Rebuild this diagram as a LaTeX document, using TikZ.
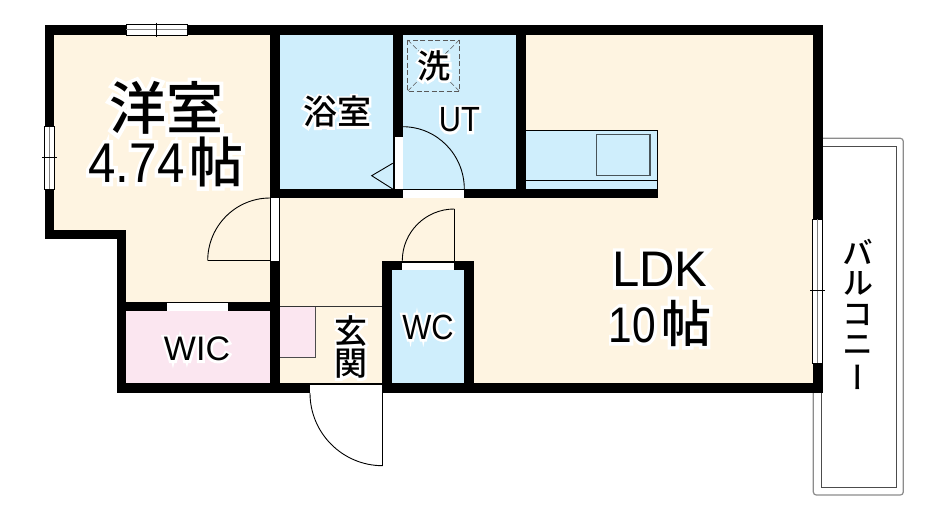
\documentclass[tikz,border=0pt]{standalone}
\usepackage{fontspec}
\setmainfont{Liberation Sans}
\newfontfamily\lat{Liberation Sans}
\newfontfamily\lathalo[FakeBold=14]{Liberation Sans}
\newfontfamily\cjk{Noto Sans CJK JP Medium}
\newfontfamily\cjkhalo[FakeBold=14]{Noto Sans CJK JP Medium}
\newfontfamily\cjkv[RawFeature=+vert]{Noto Sans CJK JP Medium}

\definecolor{floorcream}{HTML}{FEF4E1}
\definecolor{wetblue}{HTML}{CFEEFC}
\definecolor{closetpink}{HTML}{FBE6F0}

\newcommand{\fs}[1]{\fontsize{#1}{#1}\selectfont}
\newcommand{\halo}[3]{\leavevmode\rlap{\textcolor{white}{\csname #1halo\endcsname\fs{#2}#3}}{\csname #1\endcsname\fs{#2}#3}}

\tikzset{
    wall/.style={fill=black},
    opening/.style={fill=white},
    thinline/.style={draw=black, line width=0.9pt},
    roomlabel/.style={inner sep=0pt, transform shape},
    windowbox/.style={draw=black, fill=white, line width=0.7pt},
}

\begin{document}
\begin{tikzpicture}[x=1pt, y=-1pt]
    \useasboundingbox (0, 0) rectangle (943, 515);

    % floors
    \fill[floorcream] (50, 30) -- (818, 30) -- (818, 388) -- (121, 388) -- (121, 235) -- (50, 235) -- cycle;
    \fill[wetblue] (275, 30) rectangle (520, 194);
    \fill[wetblue] (387, 265) rectangle (469, 388);
    \fill[closetpink] (121, 306) rectangle (275, 388);
    \fill[closetpink] (280, 306.7) rectangle (315.7, 357.3);

    % kitchen
    \fill[wetblue] (525.7, 130.7) rectangle (657.7, 190);
    \draw[black, line width=0.9pt] (525.7, 130.7) -- (657.7, 130.7) -- (657.7, 190);
    \draw[black, line width=0.9pt] (525.7, 180.7) -- (657.7, 180.7);
    \draw[black!65!wetblue, line width=1.4pt] (596.7, 134.3) rectangle (650, 175.7);

    % entrance step
    \draw[black!80, line width=0.7pt] (280, 306.7) -- (384, 306.7);
    \draw[black!70, line width=0.7pt] (315.7, 306.7) -- (315.7, 357.3) -- (280, 357.3);

    % balcony
    \draw[black!45, line width=1.2pt, rounded corners=3pt] (822, 138.3) -- (903.3, 138.3) -- (903.3, 495) -- (813.3, 495) -- (813.3, 393);
    \draw[black!70, line width=1pt] (822, 146) -- (896, 146) -- (896, 487.3) -- (821.3, 487.3) -- (821.3, 393);

    % walls
    \fill[wall] (44.5, 25) rectangle (822.7, 34.5);
    \fill[wall] (44.5, 25) rectangle (54.3, 239.3);
    \fill[wall] (44.5, 230) rectangle (125.7, 239.3);
    \fill[wall] (116.7, 230) rectangle (125.7, 392.8);
    \fill[wall] (116.7, 383) rectangle (822.7, 392.8);
    \fill[wall] (812.7, 25) rectangle (822.7, 392.8);
    \fill[wall] (270, 25) rectangle (279.7, 392.8);
    \fill[wall] (392.7, 25) rectangle (402.7, 198);
    \fill[wall] (515.7, 25) rectangle (525.7, 198);
    \fill[wall] (270, 189) rectangle (658, 198);
    \fill[wall] (116.7, 301.7) rectangle (279.7, 311);
    \fill[wall] (382.3, 260.7) rectangle (392.3, 392.8);
    \fill[wall] (464.3, 260.7) rectangle (474, 392.8);
    \fill[wall] (382.3, 260.7) rectangle (474, 270.3);

    % door openings
    \fill[opening] (270.8, 198) rectangle (279, 260.7);
    \fill[opening] (394.5, 136.7) rectangle (402.7, 189);
    \fill[opening] (402.7, 190) rectangle (464.3, 198);
    \fill[opening] (166.7, 302.5) rectangle (228, 310.5);
    \fill[opening] (402.3, 262.5) rectangle (454.3, 270.3);
    \fill[opening] (310, 385) rectangle (382.3, 392.8);

    % doors
    \draw[thinline] (207.7, 260.7) -- (270, 260.7);
    \draw[thinline] (207.7, 260.7) arc[start angle=180, end angle=90, x radius=62.3pt, y radius=62.7pt];
    \draw[thinline] (402.7, 126.7) arc[start angle=90, end angle=0, x radius=61.6pt, y radius=62.3pt];
    \draw[thinline] (392.7, 163.3) -- (371.7, 175.7) -- (392.7, 189);
    \draw[thinline] (454.3, 260.7) -- (454.3, 209);
    \draw[thinline] (402.3, 260.7) arc[start angle=180, end angle=90, x radius=52pt, y radius=51.7pt];
    \draw[thinline] (382.7, 383) -- (382.7, 465.7);
    \draw[thinline] (310, 393) arc[start angle=180, end angle=270, x radius=72.7pt, y radius=72.7pt];

    % windows
    \draw[windowbox] (126, 24.5) rectangle (187.3, 35);
    \draw[black!50, line width=1pt] (126, 29.7) -- (187.3, 29.7);
    \draw[black, line width=0.6pt] (156.7, 22.5) -- (156.7, 36.7);
    \draw[windowbox] (44.5, 126.7) rectangle (54.3, 189);
    \draw[black!50, line width=1pt] (49.4, 126.7) -- (49.4, 189);
    \draw[black, line width=0.6pt] (42, 157.3) -- (57, 157.3);
    \draw[windowbox] (812.7, 219) rectangle (822.7, 363.3);
    \draw[black!50, line width=1pt] (817.7, 219) -- (817.7, 363.3);
    \draw[black, line width=0.6pt] (810, 290.7) -- (825, 290.7);

    % washer pan
    \draw[black!65, line width=0.8pt, dash pattern=on 5pt off 2.5pt] (407.7, 40) rectangle (459.3, 91);
    \draw[black!65, line width=0.6pt, dash pattern=on 5pt off 2.5pt] (407.7, 40) -- (459.3, 91);
    \draw[black!65, line width=0.6pt, dash pattern=on 5pt off 2.5pt] (459.3, 40) -- (407.7, 91);

    % labels
    \node[roomlabel] (yoshitsu) at (166, 108) {\halo{cjk}{57}{洋室}};
    \node[roomlabel] (yoshitsusize) at (166, 162) {\scalebox{0.88}[1]{\halo{lat}{56}{4.74}}\kern5pt\halo{cjk}{54}{帖}};
    \node[roomlabel] (yokushitsu) at (337, 112) {\halo{cjk}{34}{浴室}};
    \node[roomlabel] (sentaku) at (434, 66) {\halo{cjk}{33}{洗}};
    \node[roomlabel] (ut) at (459.5, 120) {\scalebox{0.88}[1]{\halo{lat}{35}{UT}}};
    \node[roomlabel] (ldk) at (660, 269) {\scalebox{0.98}[1]{\halo{lat}{50}{LDK}}};
    \node[roomlabel] (ldksize) at (660, 323) {\scalebox{0.85}[1]{\halo{lat}{50}{10}}\kern5pt\halo{cjk}{50}{帖}};
    \node[roomlabel] (wc) at (428, 327) {\scalebox{0.88}[1]{\halo{lat}{35}{WC}}};
    \node[roomlabel] (wic) at (197, 349) {\halo{lat}{34}{WIC}};
    \node[roomlabel] (gen) at (351, 331) {\halo{cjk}{33}{玄}};
    \node[roomlabel] (kan) at (351, 364) {\halo{cjk}{33}{関}};
    \node[roomlabel] (ba) at (858, 252) {\cjkv\fs{31}バ};
    \node[roomlabel] (ru) at (858, 283.5) {\cjkv\fs{31}ル};
    \node[roomlabel] (ko) at (858, 315) {\cjkv\fs{31}コ};
    \node[roomlabel] (ni) at (858, 346) {\cjkv\fs{31}ニ};
    \node[roomlabel] (choon) at (858, 377.5) {\cjkv\fs{31}ー};
\end{tikzpicture}
\end{document}
